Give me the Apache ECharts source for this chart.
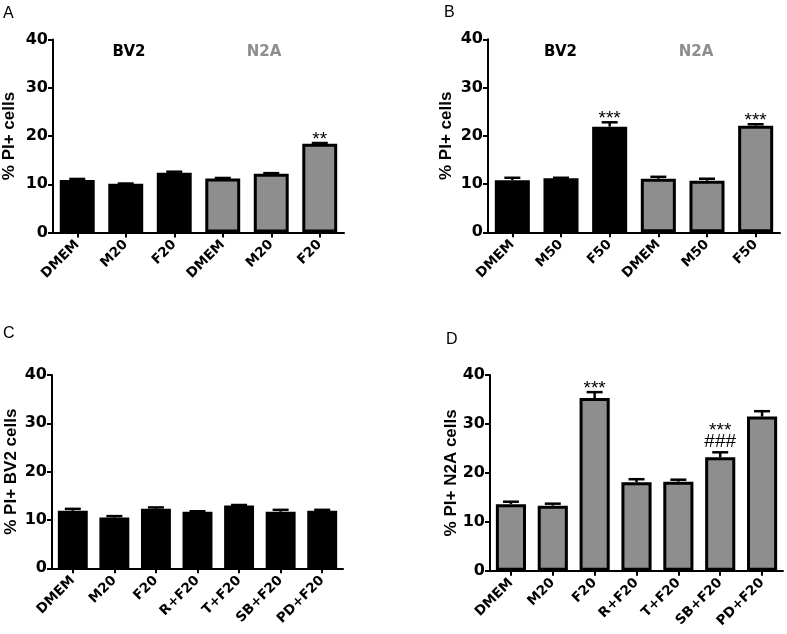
<!DOCTYPE html>
<html><head><meta charset="utf-8">
<script src="https://cdn.jsdelivr.net/npm/echarts@6/dist/echarts.min.js"></script>
<style>html,body{margin:0;padding:0;background:#fff}#c{width:787px;height:634px}</style>
</head><body><div id="c"></div>
<script>
// ---- Data ----
const catsA = ['DMEM','M20','F20','DMEM','M20','F20'];
const valsA = [10.9, 10.1, 12.4, 11.2, 12.2, 18.4];
const errA  = [0.2, 0.05, 0.2, 0.1, 0.1, 0.15];
const cellA = ['BV2','BV2','BV2','N2A','N2A','N2A'];
const sigA  = ['','','','','','**'];

const catsB = ['DMEM','M50','F50','DMEM','M50','F50'];
const valsB = [10.8, 11.2, 21.9, 11.1, 10.7, 22.1];
const errB  = [0.5, 0.1, 0.9, 0.4, 0.4, 0.3];
const cellB = ['BV2','BV2','BV2','N2A','N2A','N2A'];
const sigB  = ['','','***','','','***'];

const catsC = ['DMEM','M20','F20','R+F20','T+F20','SB+F20','PD+F20'];
const valsC = [11.9, 10.5, 12.3, 11.7, 13.0, 11.7, 11.9];
const errC  = [0.4, 0.3, 0.3, 0.1, 0.1, 0.4, 0.2];
const cellC = ['BV2','BV2','BV2','BV2','BV2','BV2','BV2'];
const sigC  = ['','','','','','',''];

const catsD = ['DMEM','M20','F20','R+F20','T+F20','SB+F20','PD+F20'];
const valsD = [13.6, 13.3, 35.3, 18.1, 18.2, 23.2, 31.5];
const errD  = [0.5, 0.4, 1.2, 0.6, 0.4, 1.0, 1.1];
const cellD = ['N2A','N2A','N2A','N2A','N2A','N2A','N2A'];
const sigD  = ['','','***','','','***\n###',''];

const yTicks = [0, 10, 20, 30, 40];
const yNames = ['% PI+ cells','% PI+ cells','% PI+ BV2 cells','% PI+ N2A cells'];
const panelLetters = ['A','B','C','D'];

// ---- Styling ----
const COLORS = {BV2:'#000000', N2A:'#8e8e8e'};
const LABEL_FONT = 'DejaVu Sans';
const grids = [
  {left:53, top:39.5, width:291, height:193, nameGap:35},
  {left:488, top:39.3, width:292, height:193, nameGap:33},
  {left:52, top:375, width:291, height:193.3, nameGap:32},
  {left:490, top:375, width:293, height:195.7, nameGap:30}
];
const panels = [
  {cats:catsA, vals:valsA, err:errA, cell:cellA, sig:sigA},
  {cats:catsB, vals:valsB, err:errB, cell:cellB, sig:sigB},
  {cats:catsC, vals:valsC, err:errC, cell:cellC, sig:sigC},
  {cats:catsD, vals:valsD, err:errD, cell:cellD, sig:sigD}
];

function errRender(sig){
  return function(params, api){
    const i = params.dataIndex;
    const x = api.value(0), v = api.value(1), e = api.value(2);
    const p0 = api.coord([x, v]);
    const p1 = api.coord([x, v + e]);
    const children = [];
    children.push({type:'line', shape:{x1:p0[0], y1:p0[1], x2:p1[0], y2:p1[1]}, style:{stroke:'#000', lineWidth:2.5}});
    children.push({type:'line', shape:{x1:p1[0]-8, y1:p1[1], x2:p1[0]+8, y2:p1[1]}, style:{stroke:'#000', lineWidth:2.5}});
    const lines = (sig[i] || '').split('\n').filter(s => s).reverse();
    let y = p1[1];
    lines.forEach((t, k) => {
      let off;
      if (k === 0) off = t.indexOf('#') >= 0 ? -11 : -3.5;
      else off = -10.5;
      y += off;
      children.push({type:'text', style:{text:t, x:p1[0], y:y, align:'center', verticalAlign:'middle',
        font:'19px "Liberation Sans", Arial, sans-serif', fill:'#000'}});
    });
    return {type:'group', children};
  };
}

const option = {
  animation:false,
  backgroundColor:'#fff',
  grid: grids.map(g => ({left:g.left, top:g.top, width:g.width, height:g.height, containLabel:false})),
  xAxis: panels.map((p, gi) => ({
    type:'category', gridIndex:gi, data:p.cats,
    axisLine:{show:true, lineStyle:{color:'#000', width:2}},
    axisTick:{show:true, alignWithLabel:true, length:5, lineStyle:{color:'#000', width:2}},
    axisLabel:{rotate:45, margin:10, color:'#000', fontFamily:LABEL_FONT, fontWeight:'bold', fontSize:13.5, interval:0},
    splitLine:{show:false}
  })),
  yAxis: panels.map((p, gi) => ({
    type:'value', gridIndex:gi, min:yTicks[0], max:yTicks[yTicks.length-1], interval:10,
    name:yNames[gi], nameLocation:'middle', nameGap:grids[gi].nameGap, nameRotate:90, nameMoveOverlap:false,
    nameTextStyle:{color:'#000', fontFamily:'Liberation Sans', fontWeight:'bold', fontSize:17},
    axisLine:{show:true, lineStyle:{color:'#000', width:2}},
    axisTick:{show:true, length:5, lineStyle:{color:'#000', width:2}},
    axisLabel:{margin:5, color:'#000', fontFamily:LABEL_FONT, fontWeight:'bold', fontSize:16},
    splitLine:{show:false}
  })),
  series: [],
  graphic: []
};

panels.forEach((p, gi) => {
  option.series.push({
    type:'bar', xAxisIndex:gi, yAxisIndex:gi, barWidth:'72%',
    data:p.vals.map((v, i) => ({value:v, itemStyle:{color:COLORS[p.cell[i]]}})),
    itemStyle:{borderColor:'#000', borderWidth:3},
    emphasis:{disabled:true}, z:2
  });
  option.series.push({
    type:'custom', xAxisIndex:gi, yAxisIndex:gi,
    renderItem:errRender(p.sig),
    data:p.vals.map((v, i) => [i, v, p.err[i]]),
    encode:{x:0, y:1}, z:3, silent:true
  });
});

// Panel letters
const letterPos = [[3,6],[444,5],[3,326],[446,332]];
panelLetters.forEach((L, i) => {
  option.graphic.push({type:'text', left:letterPos[i][0], top:letterPos[i][1],
    style:{text:L, font:'16px "Liberation Sans", Arial, sans-serif', fill:'#000'}});
});
// Group labels for panels A and B
const groupLabels = [
  {t:'BV2', x:129, y:52.5, c:COLORS.BV2}, {t:'N2A', x:264, y:52.5, c:COLORS.N2A},
  {t:'BV2', x:560.5, y:52, c:COLORS.BV2}, {t:'N2A', x:696, y:52, c:COLORS.N2A}
];
groupLabels.forEach(g => {
  option.graphic.push({type:'text', x:g.x, y:g.y,
    style:{text:g.t, align:'center', verticalAlign:'middle', font:'bold 15px "DejaVu Sans", sans-serif', fill:g.c}});
});

const chart = echarts.init(document.getElementById('c'), null, {renderer:'canvas'});
chart.setOption(option);
</script>
</body></html>
